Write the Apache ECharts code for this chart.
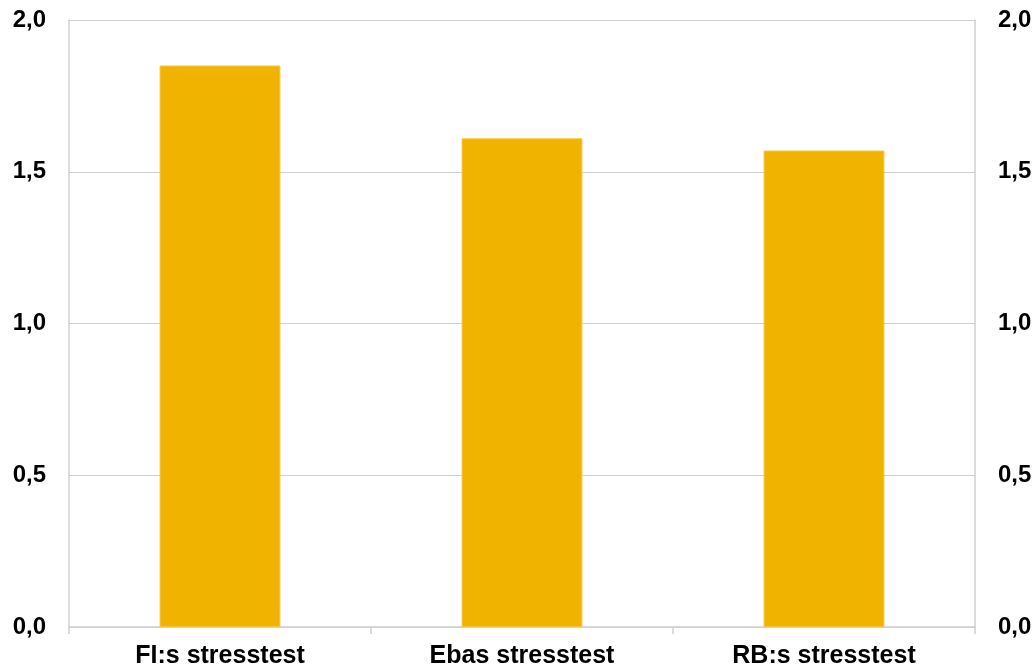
<!DOCTYPE html>
<html>
<head>
<meta charset="utf-8">
<script src="https://cdn.jsdelivr.net/npm/echarts@6/dist/echarts.min.js"></script>
<style>
  html, body { margin: 0; padding: 0; background: #fff; }
  #chart { width: 1035px; height: 671px; }
</style>
</head>
<body>
<div id="chart"></div>
<script>
  // kategorier och värden
  var categories = ['FI:s stresstest', 'Ebas stresstest', 'RB:s stresstest'];
  var values = [1.85, 1.61, 1.57];
  var yTicks = [0, 0.5, 1.0, 1.5, 2.0];

  var gridColor = '#d0d0d0';
  var labelFont = { color: '#000', fontWeight: 'bold', fontFamily: 'Liberation Sans, Arial, sans-serif' };

  function fmt(v) {
    return v.toFixed(1).replace('.', ',');
  }

  var myChart = echarts.init(document.getElementById('chart'));

  var yAxisBase = {
    type: 'value',
    min: yTicks[0],
    max: yTicks[yTicks.length - 1],
    interval: yTicks[1] - yTicks[0],
    axisLine: { show: true, lineStyle: { color: gridColor, width: 1.5 } },
    axisTick: { show: false },
    axisLabel: Object.assign({ formatter: fmt, margin: 23, fontSize: 24 }, labelFont)
  };

  var option = {
    animation: false,
    grid: { left: 69, right: 60, top: 20, bottom: 44 },
    xAxis: {
      type: 'category',
      data: categories,
      axisLine: { lineStyle: { color: gridColor, width: 1.5 } },
      axisTick: { show: true, length: 7, lineStyle: { color: gridColor, width: 1.5 } },
      axisLabel: Object.assign({ margin: 17, fontSize: 25 }, labelFont)
    },
    yAxis: [
      Object.assign({}, yAxisBase, {
        position: 'left',
        splitLine: { show: true, lineStyle: { color: gridColor, width: 1 } }
      }),
      Object.assign({}, yAxisBase, {
        position: 'right',
        splitLine: { show: false }
      })
    ],
    series: [
      {
        type: 'bar',
        data: values,
        barWidth: '40%',
        itemStyle: { color: '#F0B400', borderColor: '#F5C53A', borderWidth: 1 }
      }
    ]
  };

  myChart.setOption(option);
</script>
</body>
</html>
